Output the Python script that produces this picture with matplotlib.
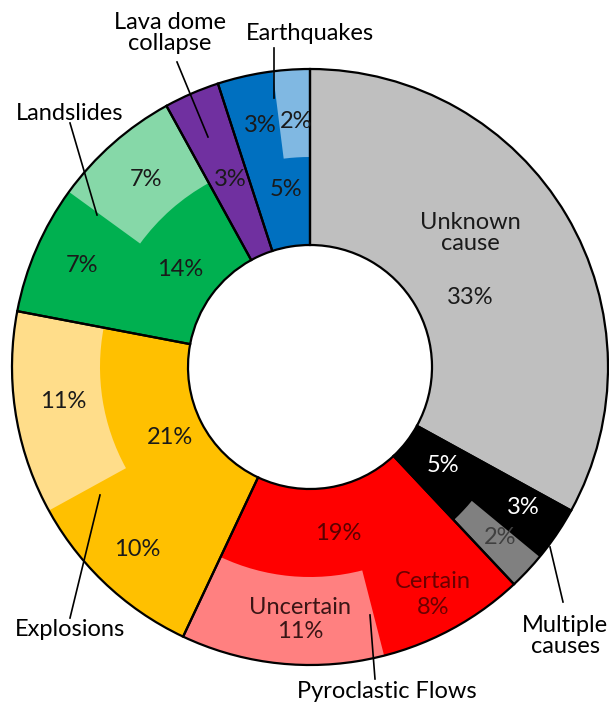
import numpy as np
import matplotlib.pyplot as plt

# main causes (clockwise from 12 o'clock)
causes = ['Unknown cause', 'Multiple causes', 'Pyroclastic Flows', 'Explosions',
          'Landslides', 'Lava dome collapse', 'Earthquakes']
cause_pct = [33, 5, 19, 21, 14, 3, 5]
cause_colors = ['#bfbfbf', '#000000', '#ff0000', '#ffc000', '#00b050', '#7030a0', '#0070c0']

# outer ring split of each cause
sub_pct = [33, 3, 2, 8, 11, 10, 11, 7, 7, 3, 3, 2]
sub_colors = ['#bfbfbf', '#000000', '#808080', '#ff0000', '#ff8080', '#ffc000', '#ffdd8a',
              '#00b050', '#86d8a8', '#7030a0', '#0070c0', '#80b8e2']

W, H = 609, 707
fig = plt.figure(figsize=(W / 100, H / 100), dpi=100)
ax = fig.add_axes([0, 0, 1, 1])

cx, cy = 310, H - 367
r_hole, r_mid, r_out = 122, 210, 298

ax.pie(cause_pct, colors=cause_colors, startangle=90, counterclock=False,
       center=(cx, cy), radius=r_out, wedgeprops=dict(width=r_out - r_hole, linewidth=0))
ax.pie(sub_pct, colors=sub_colors, startangle=90, counterclock=False,
       center=(cx, cy), radius=r_out, wedgeprops=dict(width=r_out - r_mid, linewidth=0))
ax.pie(cause_pct, colors=['none'] * len(cause_pct), startangle=90, counterclock=False,
       center=(cx, cy), radius=r_out,
       wedgeprops=dict(width=r_out - r_hole, edgecolor='black', linewidth=1.6))

ax.set_xlim(0, W)
ax.set_ylim(0, H)
ax.set_aspect('equal')
ax.axis('off')

font = 'Lato'


def txt(x, y, s, color='#1a1a1a', size=17):
    ax.text(x, H - y, s, ha='center', va='center', color=color, fontsize=size,
            family=font, linespacing=1.0)


# percent labels
txt(470, 233, 'Unknown\ncause')
txt(470, 298, '33%')
txt(443, 466, '5%', color='white')
txt(523, 507, '3%', color='white')
txt(500, 537, '2%', color='#404040')
txt(338, 533, '19%', color='#5a0000')
txt(433, 582, 'Certain', color='#6b0000')
txt(433, 608, '8%', color='#6b0000')
txt(300, 607, 'Uncertain', color='#3a1515')
txt(300, 632, '11%', color='#3a1515')
txt(170, 437, '21%')
txt(63, 402, '11%')
txt(137, 550, '10%')
txt(146, 180, '7%')
txt(82, 266, '7%')
txt(180, 270, '14%')
txt(230, 180, '3%')
txt(260, 126, '3%')
txt(296, 122, '2%')
txt(286, 190, '5%')

# category names with leader lines
txt(170, 33, 'Lava dome\ncollapse', color='black')
txt(310, 33, 'Earthquakes', color='black')
txt(70, 113, 'Landslides', color='black')
txt(70, 630, 'Explosions', color='black')
txt(387, 692, 'Pyroclastic Flows', color='black')
txt(565, 636, 'Multiple\ncauses', color='black')

leaders = [((177, 62), (208, 137)), ((274, 48), (274, 98)), ((70, 123), (97, 215)),
           ((70, 618), (100, 495)), ((375, 679), (370, 615)), ((563, 602), (550, 547))]
for (x1, y1), (x2, y2) in leaders:
    ax.plot([x1, x2], [H - y1, H - y2], color='black', linewidth=1.2)

fig.savefig('out.png', dpi=100)
